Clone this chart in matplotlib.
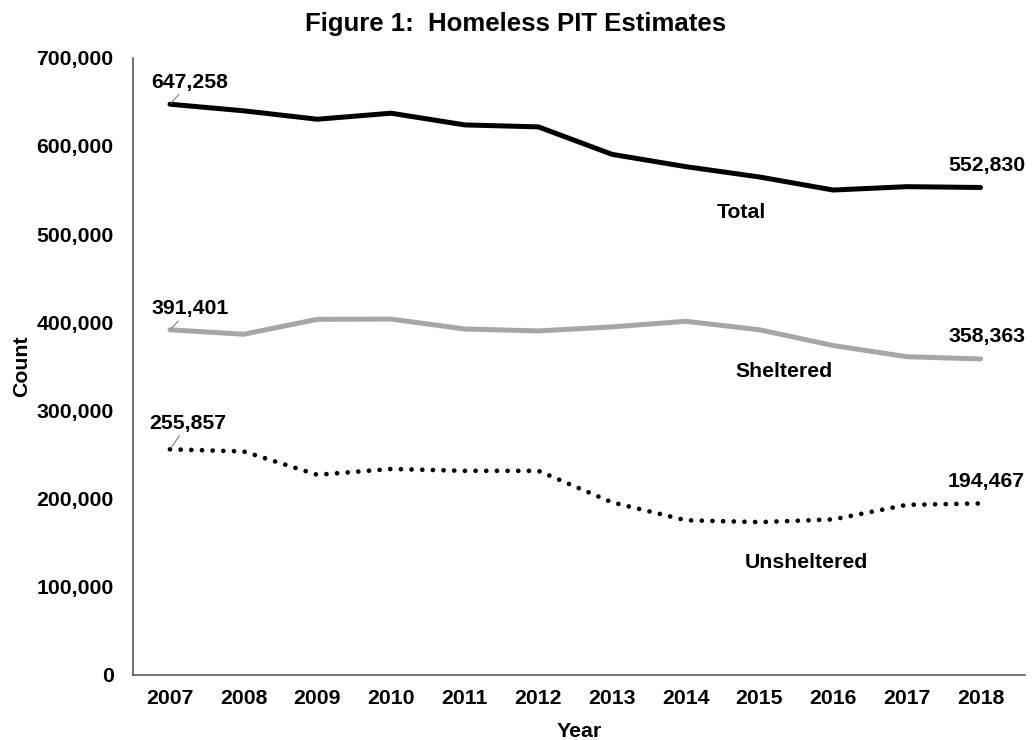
import matplotlib
matplotlib.use("Agg")
import matplotlib.pyplot as plt
from matplotlib.ticker import FuncFormatter

plt.rcParams['font.family'] = ['Liberation Sans', 'DejaVu Sans']
plt.rcParams['font.weight'] = 'bold'

years = ['2007', '2008', '2009', '2010', '2011', '2012',
         '2013', '2014', '2015', '2016', '2017', '2018']
total = [647258, 639784, 630227, 637077, 623788, 621553,
         590364, 576450, 564708, 549928, 553742, 552830]
sheltered = [391401, 386361, 403308, 403543, 392316, 390155,
             394698, 401051, 391440, 373571, 360867, 358363]
unsheltered = [255857, 253423, 226919, 233534, 231472, 231398,
               195666, 175399, 173268, 176357, 192875, 194467]

FS = 15.3

fig = plt.figure(figsize=(10.32, 7.4), dpi=100)
ax = fig.add_axes([0.129, 0.088, 0.864, 0.834])

x = range(len(years))
ax.plot(x, total, color='black', lw=3.6, solid_capstyle='round', solid_joinstyle='round')
ax.plot(x, sheltered, color='#a6a6a6', lw=3.6, solid_capstyle='round', solid_joinstyle='round')
ax.plot(x, unsheltered, color='black', lw=3.4, linestyle=(0, (0.01, 2.25)),
        dash_capstyle='round')

# end labels
lead = dict(arrowstyle='-', color='#808080', lw=0.8, shrinkA=0, shrinkB=1)
for series, off in [(total, (20, 22)), (sheltered, (20, 21)), (unsheltered, (18, 26))]:
    ax.annotate(f'{series[0]:,}', (0, series[0]), xytext=off, textcoords='offset pixels',
                ha='center', va='center', fontsize=FS, fontweight='bold', arrowprops=lead)
    ax.annotate(f'{series[-1]:,}', (len(years) - 1, series[-1]), xytext=(6, 22),
                textcoords='offset pixels', ha='center', va='center',
                fontsize=FS, fontweight='bold')

# series names
ax.text(7.76, 525000, 'Total', ha='center', va='center', fontsize=FS, fontweight='bold')
ax.text(8.34, 343800, 'Sheltered', ha='center', va='center', fontsize=FS, fontweight='bold')
ax.text(8.64, 127100, 'Unsheltered', ha='center', va='center', fontsize=FS, fontweight='bold')

ax.set_xlim(-0.5, 11.6)
ax.set_ylim(0, 700000)
ax.set_xticks(list(x))
ax.set_xticklabels(years)
ax.set_yticks(range(0, 700001, 100000))
ax.yaxis.set_major_formatter(FuncFormatter(lambda v, p: f'{int(v):,}'))
ax.tick_params(length=0, labelsize=FS, pad=10)
ax.tick_params(axis='y', pad=14)
for s in ['top', 'right']:
    ax.spines[s].set_visible(False)
for s in ['left', 'bottom']:
    ax.spines[s].set_color('#595959')
    ax.spines[s].set_linewidth(1.2)

ax.set_xlabel('Year', fontsize=FS, fontweight='bold', labelpad=10)
ax.set_ylabel('Count', fontsize=FS, fontweight='bold', labelpad=4)
fig.suptitle('Figure 1:  Homeless PIT Estimates', x=0.5, y=0.968, va='center',
             fontsize=18.5, fontweight='bold')

fig.savefig('out.png', dpi=100)
